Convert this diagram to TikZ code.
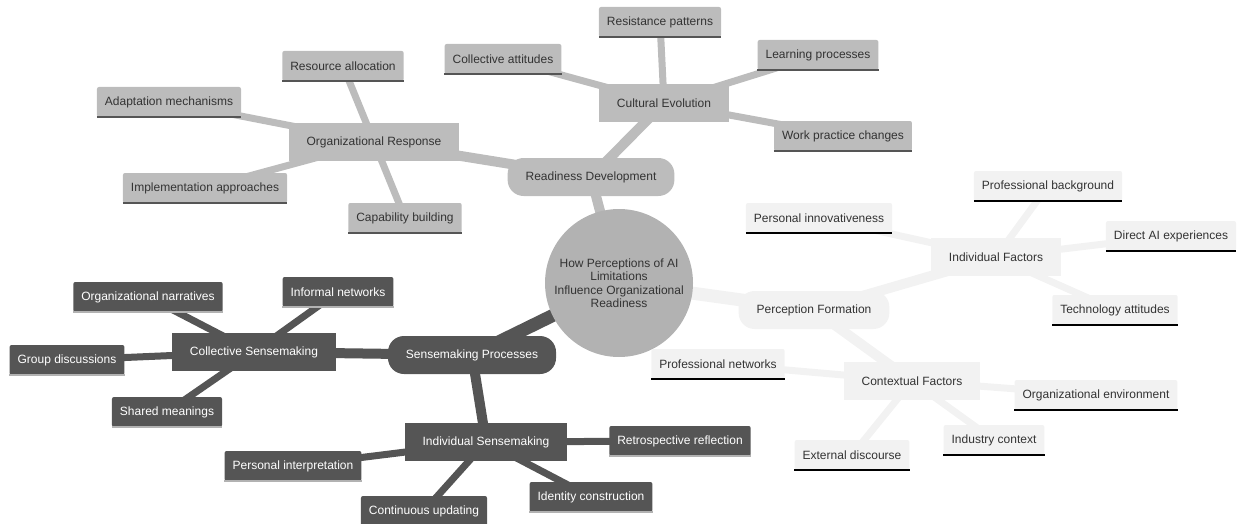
\documentclass[tikz,border=0pt]{standalone}
\usepackage{fontspec}
\setmainfont{Liberation Sans}
\usetikzlibrary{positioning, backgrounds, calc}
\definecolor{hubgray}{RGB}{178,178,178}
\definecolor{ready}{RGB}{188,188,188}
\definecolor{sense}{RGB}{85,85,85}
\definecolor{percep}{RGB}{242,242,242}
\definecolor{ink}{RGB}{51,51,51}

\tikzset{
  topic/.style={minimum height=38pt, inner xsep=18pt, font=\fontsize{12}{13.5}\selectfont},
  leaf/.style={minimum height=30pt, inner xsep=8pt, rounded corners=2pt, font=\fontsize{12}{13.5}\selectfont}
}

\begin{document}
\begin{tikzpicture}[x=1pt, y=-1pt]
\useasboundingbox (0,0) rectangle (1238,524);
\node[circle, fill=hubgray, text=ink, minimum size=148pt, inner sep=0pt, align=center, font=\fontsize{12}{13.5}\selectfont] (H) at (619,283) {How Perceptions of AI\\Limitations\\Influence Organizational\\Readiness};

% Readiness Development
\node[topic, fill=ready, text=ink, rounded corners=16pt] (RD) at (591,177) {Readiness Development};
\node[topic, fill=ready, text=ink] (OR) at (374,142) {Organizational Response};
\node[topic, fill=ready, text=ink] (CE) at (664,103) {Cultural Evolution};
% Sensemaking Processes
\node[topic, fill=sense, text=white, rounded corners=16pt] (SP) at (472,355) {Sensemaking Processes};
\node[topic, fill=sense, text=white] (CS) at (254,352) {Collective Sensemaking};
\node[topic, fill=sense, text=white] (IS) at (486,442) {Individual Sensemaking};
% Perception Formation
\node[topic, fill=percep, text=ink, rounded corners=16pt] (PF) at (814,310) {Perception Formation};
\node[topic, fill=percep, text=ink] (IF) at (996,257) {Individual Factors};
\node[topic, fill=percep, text=ink] (CF) at (912,381) {Contextual Factors};

\begin{pgfonlayer}{background}
\draw[ready, line width=10pt] (H.center) -- (RD.center);
\draw[ready, line width=10pt] (RD.center) -- (OR.center);
\draw[ready, line width=10pt] (RD.center) -- (CE.center);
\draw[sense, line width=13pt] (H.center) -- (SP.center);
\draw[sense, line width=10pt] (SP.center) -- (CS.center);
\draw[sense, line width=10pt] (SP.center) -- (IS.center);
\draw[percep, line width=13pt] (H.center) -- (PF.center);
\draw[percep, line width=10pt] (PF.center) -- (IF.center);
\draw[percep, line width=10pt] (PF.center) -- (CF.center);
\end{pgfonlayer}

% gray leaves
\foreach \p/\n/\x/\y/\t in {OR/RA/343/66/Resource allocation, OR/AM/169/102/Adaptation mechanisms,
    OR/IA/205/188/Implementation approaches, OR/CB/405/218/Capability building,
    CE/CA/503/59/Collective attitudes, CE/RP/660/22/Resistance patterns,
    CE/LP/818/55/Learning processes, CE/WP/843/136/Work practice changes} {
  \node[leaf, fill=ready, text=ink] (\n) at (\x,\y) {\t};
  \draw[sense, line width=2pt] (\n.south west) -- (\n.south east);
  \begin{pgfonlayer}{background}
    \draw[ready, line width=7pt] (\p.center) -- (\n.center);
  \end{pgfonlayer}
}
% dark leaves
\foreach \p/\n/\x/\y/\t in {CS/ON/148/297/Organizational narratives, CS/IN/338/292/Informal networks,
    CS/GD/67/360/Group discussions, CS/SM/167/412/Shared meanings,
    IS/RR/680/441/Retrospective reflection, IS/PI/293/466/Personal interpretation,
    IS/CU/424/511/Continuous updating, IS/IC/591/497/Identity construction} {
  \node[leaf, fill=sense, text=white] (\n) at (\x,\y) {\t};
  \draw[black!30, line width=1.5pt] (\n.south west) -- (\n.south east);
  \begin{pgfonlayer}{background}
    \draw[sense, line width=7pt] (\p.center) -- (\n.center);
  \end{pgfonlayer}
}
% light leaves
\foreach \p/\n/\x/\y/\t in {IF/PV/819/218/Personal innovativeness, IF/PB/1048/186/Professional background,
    IF/DA/1171/236/Direct AI experiences, IF/TA/1115/310/Technology attitudes,
    CF/PN/718/364/Professional networks, CF/OE/1096/395/Organizational environment,
    CF/IX/994/440/Industry context, CF/ED/852/455/External discourse} {
  \node[leaf, fill=percep, text=ink] (\n) at (\x,\y) {\t};
  \draw[black, line width=2pt] (\n.south west) -- (\n.south east);
  \begin{pgfonlayer}{background}
    \draw[percep, line width=7pt] (\p.center) -- (\n.center);
  \end{pgfonlayer}
}
\end{tikzpicture}
\end{document}
